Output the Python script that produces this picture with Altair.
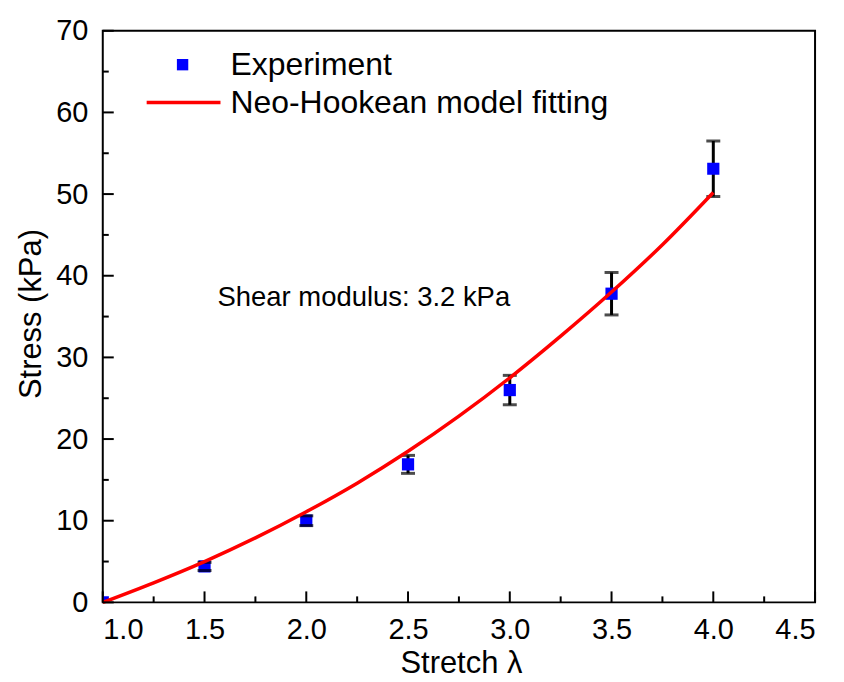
import altair as alt
import pandas as pd

stretch = [1.0, 1.5, 2.0, 2.5, 3.0, 3.5, 4.0]
stress = [0.0, 4.4, 10.0, 16.9, 26.0, 37.8, 53.1]
err = [0.0, 0.5, 0.6, 1.1, 1.8, 2.6, 3.4]

# Neo-Hookean fit curve
fit_x = [1.0, 1.25, 1.5, 1.75, 2.0, 2.25, 2.5, 2.75, 3.0, 3.25, 3.5, 3.75, 4.0]
fit_y = [0.0, 2.4, 5.0, 7.9, 11.1, 14.6, 18.5, 22.8, 27.5, 32.6, 38.0, 43.8, 50.2]

x_major = [1.0, 1.5, 2.0, 2.5, 3.0, 3.5, 4.0, 4.5]
x_minor = [1.25, 1.75, 2.25, 2.75, 3.25, 3.75, 4.25]
y_major = [0, 10, 20, 30, 40, 50, 60, 70]
y_minor = [5, 15, 25, 35, 45, 55, 65]

legend_labels = ["Experiment", "Neo-Hookean model fitting"]
annotation = "Shear modulus: 3.2 kPa"

W, H = 714, 573
FONT = "Liberation Sans"

exp_df = pd.DataFrame({"x": stretch, "y": stress, "lo": [s - e for s, e in zip(stress, err)],
                       "hi": [s + e for s, e in zip(stress, err)]})
fit_df = pd.DataFrame({"x": fit_x, "y": fit_y})

xs = alt.Scale(domain=[1.0, 4.5], nice=False, zero=False)
ys = alt.Scale(domain=[0, 70], nice=False, zero=False)

x_axis = alt.Axis(values=x_major, format=".1f", labelFontSize=29, ticks=False, domain=False,
                  grid=False, labelPadding=13, title="Stretch λ", titleFontSize=31,
                  titleFontWeight="normal", titleX=W / 2 + 2, titleY=61, titleBaseline="middle",
                  labelColor="black", titleColor="black", labelFont=FONT, titleFont=FONT)
y_axis = alt.Axis(values=y_major, format="d", labelFontSize=29, ticks=False, domain=False,
                  grid=False, labelPadding=15, title="Stress (kPa)", titleFontSize=31,
                  titleFontWeight="normal", titleX=-71, titleY=H / 2 - 3, titleAngle=-90,
                  titleBaseline="middle", titleAlign="center",
                  labelColor="black", titleColor="black", labelFont=FONT, titleFont=FONT)

base = alt.Chart(exp_df)

bars = base.mark_rule(color="black", strokeWidth=3).encode(
    x=alt.X("x:Q", scale=xs, axis=x_axis),
    y=alt.Y("lo:Q", scale=ys, axis=y_axis),
    y2="hi:Q",
)
squares = base.mark_square(color="#0000FF", opacity=1, size=150, clip=True).encode(
    x=alt.X("x:Q", scale=xs), y=alt.Y("y:Q", scale=ys)
)
caps_hi = base.transform_filter("datum.hi > datum.lo").mark_tick(
    orient="horizontal", color="black", size=14, thickness=3).encode(
    x=alt.X("x:Q", scale=xs), y=alt.Y("hi:Q", scale=ys))
caps_lo = base.transform_filter("datum.hi > datum.lo").mark_tick(
    orient="horizontal", color="black", size=14, thickness=3).encode(
    x=alt.X("x:Q", scale=xs), y=alt.Y("lo:Q", scale=ys))

fit = alt.Chart(fit_df).mark_line(color="#FF0000", strokeWidth=3.5, interpolate="monotone").encode(
    x=alt.X("x:Q", scale=xs), y=alt.Y("y:Q", scale=ys)
)

# inward ticks
xmaj = alt.Chart(pd.DataFrame({"t": x_major})).mark_rule(color="black", strokeWidth=2).encode(
    x=alt.X("t:Q", scale=xs), y=alt.value(H), y2=alt.value(H - 11))
xmin = alt.Chart(pd.DataFrame({"t": x_minor})).mark_rule(color="black", strokeWidth=2).encode(
    x=alt.X("t:Q", scale=xs), y=alt.value(H), y2=alt.value(H - 6))
ymaj = alt.Chart(pd.DataFrame({"t": y_major})).mark_rule(color="black", strokeWidth=2).encode(
    y=alt.Y("t:Q", scale=ys), x=alt.value(0), x2=alt.value(11))
ymin = alt.Chart(pd.DataFrame({"t": y_minor})).mark_rule(color="black", strokeWidth=2).encode(
    y=alt.Y("t:Q", scale=ys), x=alt.value(0), x2=alt.value(6))

# manual legend
leg_sq = alt.Chart(pd.DataFrame({"k": [legend_labels[0]]})).mark_square(
    color="#0000FF", opacity=1, size=130).encode(x=alt.value(80), y=alt.value(34))
leg_line = alt.Chart(pd.DataFrame({"k": [legend_labels[1]]})).mark_rule(
    color="#FF0000", strokeWidth=3.5).encode(x=alt.value(44), x2=alt.value(118), y=alt.value(72))
leg_txt = alt.Chart(pd.DataFrame({"k": legend_labels, "yy": [34, 72]})).mark_text(
    align="left", baseline="middle", fontSize=32, font=FONT, color="black").encode(
    x=alt.value(128), y=alt.Y("yy:Q", scale=None), text="k:N")

note = alt.Chart(pd.DataFrame({"t": [annotation]})).mark_text(
    align="left", baseline="middle", fontSize=27.5, font=FONT, color="black").encode(
    x=alt.value(115), y=alt.value(268), text="t:N")

chart = alt.layer(
    bars, squares, caps_hi, caps_lo, fit, xmaj, xmin, ymaj, ymin, leg_sq, leg_line, leg_txt, note
).properties(
    width=W, height=H,
    padding={"left": 95, "top": 22, "right": 21, "bottom": 78},
    autosize=alt.AutoSizeParams(type="none"),
    background="white",
).configure_view(stroke="black", strokeWidth=2).configure_axis(labelFont=FONT, titleFont=FONT)

chart.save("out.html", embed_options={"renderer": "svg", "actions": False})
